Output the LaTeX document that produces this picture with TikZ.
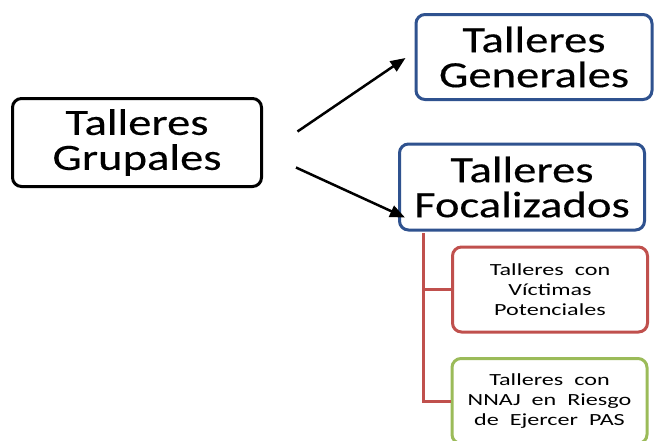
\documentclass[tikz,border=0pt]{standalone}
\usepackage{fontspec}
\setmainfont{Carlito}
\newfontfamily\widefont[FakeStretch=1.26,FakeBold=0.3]{Carlito}
\newfontfamily\smallwidefont[FakeStretch=1.42,WordSpace=2]{Carlito}
\usetikzlibrary{arrows.meta}
\definecolor{boxblue}{RGB}{47,82,143}
\definecolor{boxred}{RGB}{192,80,77}
\definecolor{boxgreen}{RGB}{155,187,89}

\begin{document}
\begin{tikzpicture}[x=1pt,y=-1pt,
	box/.style = {draw, rounded corners=9pt, fill=white, align=center, inner sep=0pt, line width=3pt},
	mainbox/.style = {box, font=\widefont\fontsize{37}{35}\selectfont},
	bluebox/.style = {box, draw=boxblue, font=\widefont\fontsize{37}{35}\selectfont},
	subbox/.style = {box, minimum width=195pt, minimum height=85pt, font=\smallwidefont\fontsize{17}{20}\selectfont},
	arrow/.style = {-{Triangle[length=15pt,width=12pt]}, line width=2.5pt},
	linkline/.style = {draw=boxred, line width=3pt}]
					\useasboundingbox (0,0) rectangle (654,440);
					\clip (0,0) rectangle (654,440);
					% main boxes
					\node[mainbox,minimum width=249pt,minimum height=88pt] (grupales) at (137,142.5) {Talleres\\Grupales};
					\node[bluebox,minimum width=236pt,minimum height=85pt] (generales) at (534,57) {Talleres\\Generales};
					\node[bluebox,minimum width=245pt,minimum height=86pt] (focal) at (522,187) {Talleres\\Focalizados};
					% sub boxes
					\node[subbox,draw=boxred] (victimas) at (550,289.5) {Talleres con\\Víctimas\\Potenciales};
					\node[subbox,draw=boxgreen] (nnaj) at (549.5,401) {Talleres con\\NNAJ en Riesgo\\de Ejercer PAS};
					% connectors
					\draw [linkline] ([xshift=25pt,yshift=-1.5pt]focal.south west) |- (victimas.west);
					\draw [linkline] ([xshift=25pt,yshift=-1.5pt]focal.south west) |- (nnaj.west);
					\draw [arrow] ([xshift=34.5pt,yshift=11pt]grupales.east) -- ([xshift=-9pt,yshift=-1pt]generales.west);
					\draw [arrow] ([xshift=33pt,yshift=-25pt]grupales.east) -- ([xshift=7pt,yshift=14pt]focal.south west);
				\end{tikzpicture}
\end{document}
